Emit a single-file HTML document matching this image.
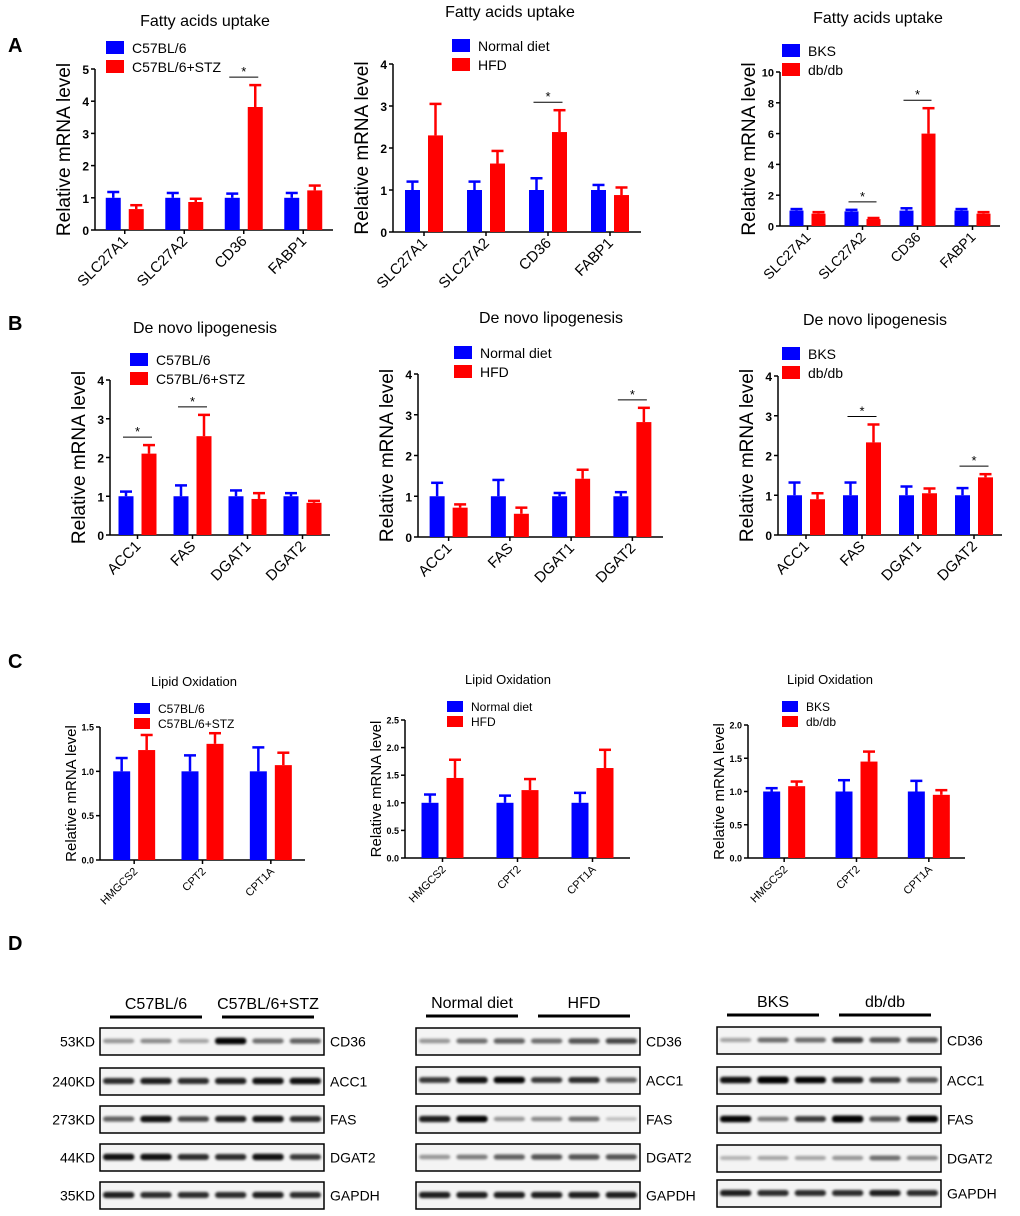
<!DOCTYPE html>
<html><head><meta charset="utf-8"><style>
body{margin:0;background:#fff;}
svg{display:block;font-family:"Liberation Sans",Arial,sans-serif;}
</style></head><body>
<svg id="fig" width="1020" height="1216" viewBox="0 0 1020 1216" xmlns="http://www.w3.org/2000/svg">
<text x="8" y="52" font-size="20" font-weight="bold">A</text>
<text x="8" y="330" font-size="20" font-weight="bold">B</text>
<text x="8" y="668" font-size="20" font-weight="bold">C</text>
<text x="8" y="950" font-size="20" font-weight="bold">D</text>
</svg>
<script>
// ---- data ----
const catsA = ["SLC27A1","SLC27A2","CD36","FABP1"];
const catsB = ["ACC1","FAS","DGAT1","DGAT2"];
const catsC = ["HMGCS2","CPT2","CPT1A"];
const a1Ctrl=[1,1,1,1], a1CtrlErr=[0.18,0.15,0.13,0.15], a1Trt=[0.65,0.87,3.82,1.23], a1TrtErr=[0.12,0.1,0.68,0.15], a1Sig=[2];
const a2Ctrl=[1,1,1,1], a2CtrlErr=[0.2,0.2,0.28,0.12], a2Trt=[2.3,1.63,2.38,0.88], a2TrtErr=[0.75,0.3,0.52,0.18], a2Sig=[2];
const a3Ctrl=[1,0.95,1,1], a3CtrlErr=[0.1,0.1,0.15,0.1], a3Trt=[0.8,0.45,6.0,0.8], a3TrtErr=[0.1,0.07,1.65,0.1], a3Sig=[1,2];
const b1Ctrl=[1,1,1,1], b1CtrlErr=[0.12,0.28,0.15,0.08], b1Trt=[2.1,2.55,0.93,0.83], b1TrtErr=[0.22,0.55,0.15,0.05], b1Sig=[0,1];
const b2Ctrl=[1,1,1,1], b2CtrlErr=[0.33,0.4,0.08,0.1], b2Trt=[0.72,0.57,1.43,2.82], b2TrtErr=[0.08,0.15,0.22,0.35], b2Sig=[3];
const b3Ctrl=[1,1,1,1], b3CtrlErr=[0.32,0.32,0.22,0.18], b3Trt=[0.9,2.33,1.05,1.45], b3TrtErr=[0.15,0.45,0.12,0.08], b3Sig=[1,3];
const c1Ctrl=[1,1,1], c1CtrlErr=[0.15,0.18,0.27], c1Trt=[1.24,1.31,1.07], c1TrtErr=[0.17,0.12,0.14], c1Sig=[];
const c2Ctrl=[1,1,1], c2CtrlErr=[0.15,0.13,0.18], c2Trt=[1.45,1.23,1.63], c2TrtErr=[0.33,0.2,0.33], c2Sig=[];
const c3Ctrl=[1,1,1], c3CtrlErr=[0.05,0.17,0.16], c3Trt=[1.08,1.45,0.95], c3TrtErr=[0.07,0.15,0.07], c3Sig=[];
const ticksA1=[0,1,2,3,4,5], ticksA2=[0,1,2,3,4], ticksA3=[0,2,4,6,8,10], ticksB=[0,1,2,3,4];
const ticksC1=[0,0.5,1.0,1.5], ticksC2=[0,0.5,1.0,1.5,2.0,2.5], ticksC3=[0,0.5,1.0,1.5,2.0];
const legA1=["C57BL/6","C57BL/6+STZ"], legN=["Normal diet","HFD"], legD=["BKS","db/db"], legB1=["C57BL/6","C57BL/6+STZ"];

const NS="http://www.w3.org/2000/svg";
const svg=document.getElementById('fig');
function mk(tag,attrs,parent,txt){const e=document.createElementNS(NS,tag);for(const k in attrs)e.setAttribute(k,attrs[k]);if(txt!==undefined)e.textContent=txt;(parent||svg).appendChild(e);return e;}

function chart(o){
  const g=mk('g',{});
  
  
  const ymax=o.ticks[o.ticks.length-1];
  const yS=v=>o.y0-(v/ymax)*(o.y0-o.yTop);
  const n=o.cats.length, band=(o.xEnd-o.ax)/n;
  const xC=i=>o.ax+band*(i+0.5);
  const t=mk('text',{x:o.tx,y:o.ty,'font-size':o.tfs,'text-anchor':'middle'},g,o.title);
  
  
  o.leg.forEach((l,i)=>{
    const r=mk('rect',{x:o.lx,y:o.ly+i*o.lgap,width:o.lw,height:o.lh,fill:i?'#ff0000':'#0000ff'},g);
    
    
    const lt=mk('text',{x:o.lx+o.lw+8,y:o.ly+i*o.lgap+o.lh-1,'font-size':o.lfs},g,l);
    
    
  });
  const yl=mk('text',{x:0,y:0,'font-size':o.yfs,'text-anchor':'middle',transform:`translate(${o.ax-o.ylOff},${(o.y0+o.yTop)/2}) rotate(-90)`},g,'Relative mRNA level');
  
  
  mk('line',{x1:o.ax,y1:o.y0,x2:o.ax,y2:o.yTop,stroke:'#000','stroke-width':1.5},g);
  mk('line',{x1:o.ax,y1:o.y0,x2:o.xEnd,y2:o.y0,stroke:'#000','stroke-width':1.5},g);
  o.ticks.forEach(v=>{
    mk('line',{x1:o.ax-4,y1:yS(v),x2:o.ax,y2:yS(v),stroke:'#000','stroke-width':1.5},g);
    const tl=mk('text',{x:o.ax-6,y:yS(v)+o.kfs/2-1,'font-size':o.kfs,'font-weight':'bold','text-anchor':'end'},g,o.dec?v.toFixed(1):String(v));
    
    
  });
  o.cats.forEach((c,i)=>{
    const cx=xC(i);
    mk('line',{x1:cx,y1:o.y0,x2:cx,y2:o.y0+4,stroke:'#000','stroke-width':1.5},g);
    const xl=mk('text',{x:0,y:0,'font-size':o.xfs,'text-anchor':'end',transform:`translate(${cx+4},${o.y0+12}) rotate(-45)`},g,c);
    
    
    [[o.ctrl,o.ctrlErr,'#0000ff',-1],[o.trt,o.trtErr,'#ff0000',1]].forEach(([vals,errs,col,s])=>{
      const x=s<0?cx-o.gap/2-o.bw:cx+o.gap/2;
      const top=yS(vals[i]), et=yS(vals[i]+errs[i]);
      const b=mk('rect',{x:x,y:top,width:o.bw,height:o.y0-top,fill:col},g);
      
      
      mk('line',{x1:x+o.bw/2,y1:top,x2:x+o.bw/2,y2:et,stroke:col,'stroke-width':2.5},g);
      mk('line',{x1:x+o.bw/2-6,y1:et,x2:x+o.bw/2+6,y2:et,stroke:col,'stroke-width':2.5},g);
    });
    if(o.sig.includes(i)){
      const ys=yS(Math.max(o.trt[i]+o.trtErr[i],o.ctrl[i]+o.ctrlErr[i]))-8;
      mk('line',{x1:cx-o.gap/2-o.bw/2-3,y1:ys,x2:cx+o.gap/2+o.bw/2+3,y2:ys,stroke:'#000','stroke-width':1},g);
      const st=mk('text',{x:cx,y:ys-1,'font-size':13,'text-anchor':'middle'},g,'*');
      
      
    }
  });
}
const baseA={tfs:16,lfs:14,lw:18,lh:13,lgap:19,yfs:19,ylOff:25,kfs:12,xfs:15,bw:15,gap:8};
chart(Object.assign({},baseA,{name:'chart-a1',ax:95,xEnd:333,y0:230,yTop:69,ticks:ticksA1,cats:catsA,ctrl:a1Ctrl,ctrlErr:a1CtrlErr,trt:a1Trt,trtErr:a1TrtErr,sig:a1Sig,title:'Fatty acids uptake',tx:205,ty:26,leg:legA1,lx:106,ly:41}));
chart(Object.assign({},baseA,{name:'chart-a2',ax:393,xEnd:641,y0:232,yTop:64,ticks:ticksA2,cats:catsA,ctrl:a2Ctrl,ctrlErr:a2CtrlErr,trt:a2Trt,trtErr:a2TrtErr,sig:a2Sig,title:'Fatty acids uptake',tx:510,ty:17,leg:legN,lx:452,ly:39}));
chart(Object.assign({},baseA,{name:'chart-a3',ax:780,xEnd:1000,y0:226,yTop:72,ticks:ticksA3,cats:catsA,ctrl:a3Ctrl,ctrlErr:a3CtrlErr,trt:a3Trt,trtErr:a3TrtErr,sig:a3Sig,title:'Fatty acids uptake',tx:878,ty:23,leg:legD,lx:782,ly:44,xfs:14,bw:14,kfs:11}));
chart(Object.assign({},baseA,{name:'chart-b1',ax:110,xEnd:330,y0:535,yTop:380,ticks:ticksB,cats:catsB,ctrl:b1Ctrl,ctrlErr:b1CtrlErr,trt:b1Trt,trtErr:b1TrtErr,sig:b1Sig,title:'De novo lipogenesis',tx:205,ty:333,leg:legB1,lx:130,ly:353}));
chart(Object.assign({},baseA,{name:'chart-b2',ax:418,xEnd:663,y0:537,yTop:374,ticks:ticksB,cats:catsB,ctrl:b2Ctrl,ctrlErr:b2CtrlErr,trt:b2Trt,trtErr:b2TrtErr,sig:b2Sig,title:'De novo lipogenesis',tx:551,ty:323,leg:legN,lx:454,ly:346}));
chart(Object.assign({},baseA,{name:'chart-b3',ax:778,xEnd:1002,y0:535,yTop:376,ticks:ticksB,cats:catsB,ctrl:b3Ctrl,ctrlErr:b3CtrlErr,trt:b3Trt,trtErr:b3TrtErr,sig:b3Sig,title:'De novo lipogenesis',tx:875,ty:325,leg:legD,lx:782,ly:347}));
const baseC={tfs:13,lfs:12,lw:16,lh:11,lgap:15,yfs:15,ylOff:24,kfs:9,xfs:11,bw:17,gap:8,dec:true};
chart(Object.assign({},baseC,{name:'chart-c1',ax:100,xEnd:305,y0:860,yTop:727,ticks:ticksC1,cats:catsC,ctrl:c1Ctrl,ctrlErr:c1CtrlErr,trt:c1Trt,trtErr:c1TrtErr,sig:c1Sig,title:'Lipid Oxidation',tx:194,ty:686,leg:legA1,lx:134,ly:703}));
chart(Object.assign({},baseC,{name:'chart-c2',ax:405,xEnd:630,y0:858,yTop:720,ticks:ticksC2,cats:catsC,ctrl:c2Ctrl,ctrlErr:c2CtrlErr,trt:c2Trt,trtErr:c2TrtErr,sig:c2Sig,title:'Lipid Oxidation',tx:508,ty:684,leg:legN,lx:447,ly:701}));
chart(Object.assign({},baseC,{name:'chart-c3',ax:748,xEnd:965,y0:858,yTop:725,ticks:ticksC3,cats:catsC,ctrl:c3Ctrl,ctrlErr:c3CtrlErr,trt:c3Trt,trtErr:c3TrtErr,sig:c3Sig,title:'Lipid Oxidation',tx:830,ty:684,leg:legD,lx:782,ly:701}));

// ---- western blots ----
const proteins=["CD36","ACC1","FAS","DGAT2","GAPDH"];
const kds=["53KD","240KD","273KD","44KD","35KD"];
const blot1=[[0.35,0.4,0.3,0.9,0.5,0.55],[0.75,0.8,0.75,0.8,0.85,0.85],[0.55,0.85,0.65,0.8,0.85,0.75],[0.85,0.85,0.75,0.75,0.85,0.7],[0.8,0.75,0.75,0.75,0.8,0.75]];
const blot2=[[0.35,0.5,0.55,0.5,0.6,0.65],[0.7,0.85,0.9,0.7,0.75,0.55],[0.8,0.9,0.35,0.4,0.5,0.2],[0.35,0.45,0.55,0.6,0.6,0.6],[0.8,0.8,0.8,0.8,0.8,0.8]];
const blot3=[[0.3,0.5,0.5,0.7,0.6,0.6],[0.85,1,0.9,0.8,0.7,0.6],[0.9,0.45,0.7,1,0.6,0.95],[0.25,0.3,0.3,0.35,0.5,0.4],[0.8,0.75,0.75,0.75,0.8,0.75]];
const groups1=["C57BL/6","C57BL/6+STZ"], groups2=["Normal diet","HFD"], groups3=["BKS","db/db"];
mk('defs',{}).innerHTML='<filter id="bl" x="-20%" y="-100%" width="140%" height="300%"><feGaussianBlur stdDeviation="1.4"/></filter>';
function blot(o){
  const g=mk('g',{});
  
  
  const w=o.x2-o.x1, lw=w/6;
  o.groups.forEach((gn,i)=>{
    const gx1=o.x1+10+i*(w/2), gx2=gx1+w/2-20;
    mk('line',{x1:gx1,y1:o.ly,x2:gx2,y2:o.ly,stroke:'#000','stroke-width':3},g);
    const t=mk('text',{x:(gx1+gx2)/2,y:o.ly-8,'font-size':16,'text-anchor':'middle'},g,gn);
    
    
  });
  o.data.forEach((row,r)=>{
    const y=o.rows[r], h=27;
    mk('rect',{x:o.x1,y:y,width:w,height:h,fill:'#f4f4f4',stroke:'#000','stroke-width':1.5},g);
    row.forEach((v,l)=>{
      const b=mk('rect',{x:o.x1+l*lw+3,y:y+h/2-2-v*2,width:lw-6,height:3+v*4,rx:3,fill:'#000','fill-opacity':Math.min(1,v*1.1),filter:'url(#bl)'},g);
      
      
    });
    const pl=mk('text',{x:o.x2+6,y:y+h/2+5,'font-size':14},g,proteins[r]);
    
    
    if(o.kd){const kl=mk('text',{x:o.x1-5,y:y+h/2+5,'font-size':14,'text-anchor':'end'},g,kds[r]);
      
      }
  });
}
blot({name:'blot-stz',x1:100,x2:324,ly:1017,rows:[1028,1068,1106,1144,1182],data:blot1,groups:groups1,kd:true});
blot({name:'blot-hfd',x1:416,x2:640,ly:1016,rows:[1028,1067,1106,1144,1182],data:blot2,groups:groups2,kd:false});
blot({name:'blot-dbdb',x1:717,x2:941,ly:1015,rows:[1027,1067,1106,1145,1180],data:blot3,groups:groups3,kd:false});
</script>
</body></html>
